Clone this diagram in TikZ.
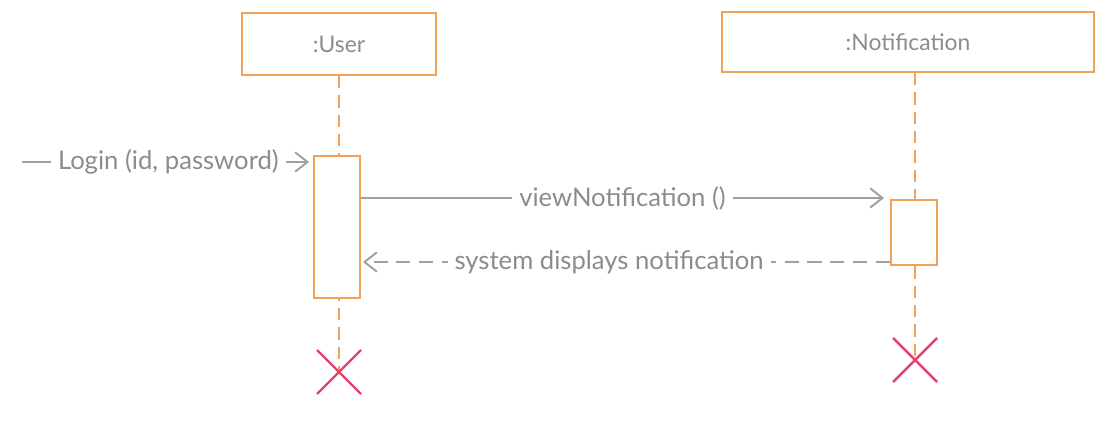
\documentclass[tikz,border=0pt]{standalone}
\usepackage{fontspec}
\setmainfont{Lato}
\usepackage{xcolor}
\usepackage{tikz}
\usetikzlibrary{arrows.meta,calc,positioning}
\definecolor{SeqOrange}{HTML}{F2A15A}
\definecolor{SeqGray}{HTML}{8C8C8C}
\definecolor{SeqPink}{HTML}{E2426E}
\definecolor{SeqLine}{HTML}{A0A0A0}

\tikzset{
  headbox/.style={draw=SeqOrange,line width=1.3pt,fill=white,text=SeqGray,font=\fontsize{13}{15}\selectfont},
  actbox/.style={draw=SeqOrange,line width=1.1pt,fill=white,minimum width=0.92cm,inner sep=0pt},
  lifeline/.style={draw=SeqOrange,line width=0.9pt,dash pattern=on 7pt off 4pt},
  msg/.style={draw=SeqLine,line width=1.1pt,-{Straight Barb[length=7pt,width=11pt,line width=1.1pt]}},
  reply/.style={msg,dash pattern=on 8pt off 5pt},
  msgtext/.style={fill=white,text=SeqGray,inner sep=4pt,font=\fontsize{14.6}{17}\selectfont},
  killx/.style={draw=SeqPink,line width=1.4pt}
}

\begin{document}
\begin{tikzpicture}[x=0.02cm,y=-0.02cm]
    \useasboundingbox (0,0) rectangle (1097,425);
    % heads
    \node[headbox,minimum width=3.88cm,minimum height=1.24cm] (user) at (339,44) {:User};
    \node[headbox,minimum width=7.44cm,minimum height=1.2cm] (notif) at (908,42) {:Notification};
    \coordinate (userend) at (339,372);
    \coordinate (notifend) at (915,360);
    % lifelines
    \draw[lifeline] (user.south) -- (userend);
    \draw[lifeline] (notif.south -| notifend) -- (notifend);
    % activations
    \node[actbox,minimum height=2.84cm] (useract) at (337,227) {};
    \node[actbox,minimum height=1.3cm] (notifact) at (914,232.5) {};
    % messages
    \coordinate (loginstart) at (22,162);
    \draw[msg] (loginstart) -- node[msgtext,pos=0.51] (login) {Login (id, password)} ($(loginstart -| useract.west)+(-4,0)$);
    \draw[msg] (useract.east |- 0,198) -- node[msgtext] (view) {viewNotification ()} ($(notifact.west |- 0,198)+(-6,0)$);
    \draw[reply] (notifact.west |- 0,262) -- node[msgtext,pos=0.533] (disp) {system displays notification} ($(useract.east |- 0,262)+(2,0)$);
    % destroy
    \draw[killx] ($(userend)+(-22,-22)$) -- ($(userend)+(22,22)$);
    \draw[killx] ($(userend)+(-22,22)$) -- ($(userend)+(22,-22)$);
    \draw[killx] ($(notifend)+(-22,-22)$) -- ($(notifend)+(22,22)$);
    \draw[killx] ($(notifend)+(-22,22)$) -- ($(notifend)+(22,-22)$);
\end{tikzpicture}
\end{document}
